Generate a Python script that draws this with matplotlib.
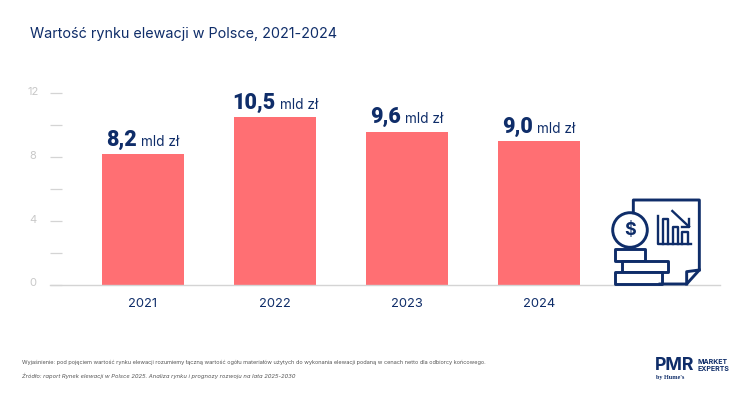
import matplotlib
matplotlib.use('Agg')
import matplotlib.pyplot as plt
from matplotlib.patches import Circle, Rectangle
from matplotlib.transforms import ScaledTranslation

lata = ['2021', '2022', '2023', '2024']
wartosci = [8.2, 10.5, 9.6, 9.0]
etykiety = ['8,2', '10,5', '9,6', '9,0']
y_ticks = [0, 2, 4, 6, 8, 10, 12]
y_labels = ['0', '', '4', '', '8', '', '12']

navy = '#0f2d69'
red = '#ff6f73'
grey = '#d4d4d4'

plt.rcParams['font.family'] = ['Inter', 'DejaVu Sans']

W, H = 750, 393
fig = plt.figure(figsize=(W / 100, H / 100), dpi=100)
ax = fig.add_axes([50 / W, 1 - 284.5 / H, 670 / W, 191.2 / H])

x = range(len(lata))
ax.bar(x, wartosci, width=0.625, color=red)
ax.set_xlim(-0.7045, 4.371)
ax.set_ylim(0, 12)
ax.set_xticks(list(x))
ax.set_xticklabels(lata, color=navy, fontsize=9.3)
ax.set_yticks(y_ticks)
ax.set_yticklabels(y_labels, color='#c8c8c8', fontsize=8, ha='center')
ax.tick_params(axis='x', length=0, pad=9.5)
ax.tick_params(axis='y', direction='in', length=8.6, width=0.9, color=grey, pad=12.5)
shift = ScaledTranslation(0, 1.5 / 72, fig.dpi_scale_trans)
for lab in ax.get_yticklabels():
    lab.set_transform(lab.get_transform() + shift)
for s in ['top', 'right', 'left']:
    ax.spines[s].set_visible(False)
ax.spines['bottom'].set_color(grey)
ax.spines['bottom'].set_linewidth(1)
ax.patch.set_alpha(0)

# etykiety nad slupkami: gruba liczba + cienkie "mld zl", razem wycentrowane
r = fig.canvas.get_renderer()
for i, v in enumerate(wartosci):
    t1 = ax.annotate(etykiety[i], (i, v), xytext=(0, 6), textcoords='offset points', family='Roboto',
                     fontsize=15.5, fontweight='black', color=navy, ha='left', va='baseline')
    t2 = ax.annotate('mld zł', (i, v), xytext=(0, 6), textcoords='offset points',
                     fontsize=9.8, color=navy, ha='left', va='baseline')
    w1 = t1.get_window_extent(r).width * 0.72
    w2 = t2.get_window_extent(r).width * 0.72
    gap = 3
    start = -(w1 + w2 + gap) / 2
    t1.set_position((start, 6))
    t2.set_position((start + w1 + gap, 6))

# warstwa w pikselach na tytul, przypisy, ikone i logo
ov = fig.add_axes([0, 0, 1, 1])
ov.set_xlim(0, W)
ov.set_ylim(H, 0)
ov.axis('off')
ov.patch.set_alpha(0)

ov.text(30, 34, 'Wartość rynku elewacji w Polsce, 2021-2024', fontsize=10.35, color=navy,
        va='center')
ov.text(22, 362, 'Wyjaśnienie: pod pojęciem wartość rynku elewacji rozumiemy łączną wartość ogółu '
        'materiałów użytych do wykonania elewacji podaną w cenach netto dla odbiorcy końcowego.',
        fontsize=4.06, color='#555555', va='center')
ov.text(22, 376, 'Źródło: raport Rynek elewacji w Polsce 2025. Analiza rynku i prognozy rozwoju na lata 2025-2030',
        fontsize=4.2, color='#555555', style='italic', va='center')

# logo
ov.text(655, 365, 'PMR', fontsize=12.8, fontweight='bold', color=navy, va='center')
ov.text(698, 362, 'MARKET', fontsize=5, fontweight='bold', color=navy, va='center')
ov.text(698, 369, 'EXPERTS', fontsize=5, fontweight='bold', color=navy, va='center')
ov.text(656, 378, "by Hume's", fontsize=4.4, fontweight='bold', family='Liberation Serif', color=navy, va='center')

# ikona
def px(zx, zy):
    return 590 + zx / 3, 180 + zy / 3

lw = 2.1
page = [px(130, 98), px(130, 60), px(328, 60), px(328, 270), px(290, 312), px(210, 312)]
ov.plot(*zip(*page), color=navy, lw=lw, solid_joinstyle='round')
ov.plot(*zip(px(328, 270), px(290, 275), px(290, 312)), color=navy, lw=lw)
ov.add_patch(Circle(px(120, 150), 17.3, fc='white', ec=navy, lw=lw))
ov.text(*px(120, 152), '$', fontsize=13, color=navy, ha='center', va='center', fontweight='bold')
for x0, y0, x1, y1 in [(75, 208, 165, 242), (97, 242, 235, 277), (75, 277, 215, 312)]:
    a, b = px(x0, y0)
    c, d = px(x1, y1)
    ov.add_patch(Rectangle((a, b), c - a, d - b, fc='white', ec=navy, lw=lw, joinstyle='round'))
ov.plot(*zip(px(203, 108), px(203, 192), px(303, 192)), color=navy, lw=1.7)
for x0, x1, y0 in [(218, 235, 118), (248, 265, 140), (275, 293, 155)]:
    ov.plot(*zip(px(x0, 192), px(x0, y0), px(x1, y0), px(x1, 192)), color=navy, lw=1.7)
ov.plot(*zip(px(247, 93), px(297, 140)), color=navy, lw=1.7)
ov.plot(*zip(px(297, 118), px(297, 140), px(275, 140)), color=navy, lw=1.7)

fig.savefig('out.png', dpi=100, facecolor='white')
